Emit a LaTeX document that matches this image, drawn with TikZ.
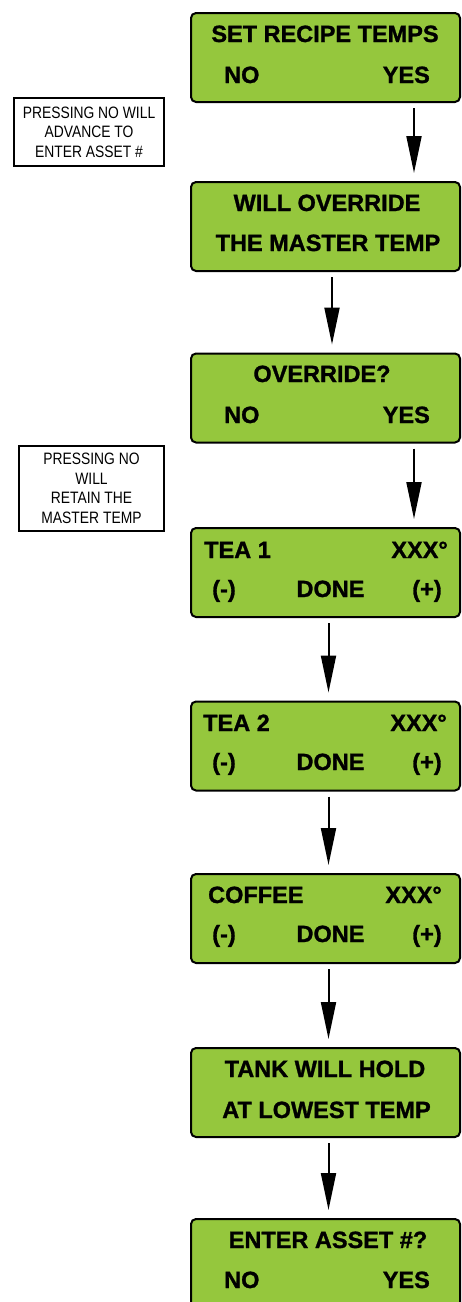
\documentclass[tikz,border=0pt]{standalone}
\usepackage{fontspec}
\setmainfont{Liberation Sans}[BoldFeatures={FakeBold=1.2}]
\newfontfamily\condfont{Liberation Sans}[FakeStretch=0.84]
\usetikzlibrary{arrows.meta}

\definecolor{lcdgreen}{RGB}{149,199,61}

\tikzset{
  screen/.style={draw, line width=2pt, fill=lcdgreen, rounded corners=5pt,
    minimum width=269pt, minimum height=89pt, inner sep=0pt},
  lbl/.style={anchor=base, inner sep=0pt, font=\fontsize{23.5}{28}\selectfont\bfseries},
  note/.style={draw, line width=2pt, align=center, inner sep=0pt,
    font=\condfont\fontsize{16.5}{19.5}\selectfont},
  flow/.style={line width=2pt, -{Triangle[length=37pt 0,width=15pt 0]},
    shorten <=5pt, shorten >=8pt}
}

\begin{document}
\begin{tikzpicture}[x=1pt,y=-1pt]
\useasboundingbox (0,0) rectangle (461,1302);

% side notes
\node[note, minimum width=150pt, minimum height=68pt] (noteadv) at (89,132)
  {PRESSING NO WILL\\ADVANCE TO\\ENTER ASSET \#};
\node[note, minimum width=145pt, minimum height=85pt] (noteret) at (91.5,488.5)
  {PRESSING NO\\WILL\\RETAIN THE\\MASTER TEMP};

% screens
\node[screen] (set) at (325.5,57.5) {};
\node[lbl] (setA) at (325,42) {SET RECIPE TEMPS};
\node[lbl, anchor=base west] (setno) at (224,83) {NO};
\node[lbl, anchor=base east] (setyes) at (430,83) {YES};

\node[screen] (warn) at (325.5,226.5) {};
\node[lbl] (warnA) at (327,211) {WILL OVERRIDE};
\node[lbl] (warnB) at (328,251) {THE MASTER TEMP};

\node[screen] (ovr) at (325.5,398) {};
\node[lbl] (ovrA) at (322,382) {OVERRIDE?};
\node[lbl, anchor=base west] (ovrno) at (224,423) {NO};
\node[lbl, anchor=base east] (ovryes) at (430,423) {YES};

\node[screen] (teaone) at (325.5,572.5) {};
\node[lbl, anchor=base west] (teaoneA) at (204,558) {TEA 1};
\node[lbl, anchor=base east] (teaoneT) at (448,558) {XXX°};
\node[lbl] (teaoneM) at (224,597) {(-)};
\node[lbl] (teaoneD) at (330.5,597) {DONE};
\node[lbl] (teaoneP) at (427,597) {(+)};

\node[screen] (teatwo) at (325.5,746) {};
\node[lbl, anchor=base west] (teatwoA) at (203,731) {TEA 2};
\node[lbl, anchor=base east] (teatwoT) at (447,731) {XXX°};
\node[lbl] (teatwoM) at (224,770) {(-)};
\node[lbl] (teatwoD) at (330.5,770) {DONE};
\node[lbl] (teatwoP) at (427,770) {(+)};

\node[screen] (coffee) at (325.5,918.5) {};
\node[lbl, anchor=base west] (coffeeA) at (208,903) {COFFEE};
\node[lbl, anchor=base east] (coffeeT) at (442,903) {XXX°};
\node[lbl] (coffeeM) at (224,942) {(-)};
\node[lbl] (coffeeD) at (330.5,942) {DONE};
\node[lbl] (coffeeP) at (427,942) {(+)};

\node[screen] (hold) at (325.5,1092.5) {};
\node[lbl] (holdA) at (325,1077) {TANK WILL HOLD};
\node[lbl] (holdB) at (326.5,1118) {AT LOWEST TEMP};

\node[screen] (asset) at (325.5,1263.5) {};
\node[lbl] (assetA) at (328,1248) {ENTER ASSET \#?};
\node[lbl, anchor=base west] (assetno) at (224,1288) {NO};
\node[lbl, anchor=base east] (assetyes) at (430,1288) {YES};

% arrows
\draw[flow] ([xshift=88.5pt]set.south) -- ([xshift=88.5pt]warn.north);
\draw[flow] ([xshift=6.5pt]warn.south) -- ([xshift=6.5pt]ovr.north);
\draw[flow] ([xshift=88.5pt]ovr.south) -- ([xshift=88.5pt]teaone.north);
\draw[flow] ([xshift=3pt]teaone.south) -- ([xshift=3pt]teatwo.north);
\draw[flow] ([xshift=3pt]teatwo.south) -- ([xshift=3pt]coffee.north);
\draw[flow] ([xshift=3pt]coffee.south) -- ([xshift=3pt]hold.north);
\draw[flow] ([xshift=3pt]hold.south) -- ([xshift=3pt]asset.north);

\end{tikzpicture}
\end{document}
